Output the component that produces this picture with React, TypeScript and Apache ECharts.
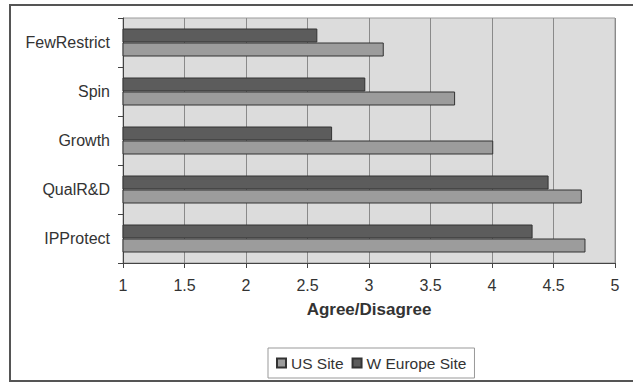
import React, { useEffect, useRef } from "react";
import * as echarts from "echarts";

const categories = ["IPProtect", "QualR&D", "Growth", "Spin", "FewRestrict"];
const usSite = [4.76, 4.73, 4.01, 3.7, 3.12];
const wEuropeSite = [4.33, 4.46, 2.7, 2.97, 2.58];
const seriesNames = ["US Site", "W Europe Site"];

export default function App() {
  const ref = useRef<HTMLDivElement>(null);
  useEffect(() => {
    if (!ref.current) return;
    const chart = echarts.init(ref.current, null, { renderer: "svg" });
    const font = "Liberation Sans, Arial, sans-serif";
    chart.setOption({
      animation: false,
      backgroundColor: "#ffffff",
      textStyle: { fontFamily: font },
      graphic: [
        {
          type: "rect",
          shape: { x: 10, y: 5, width: 640, height: 376 },
          style: { fill: "none", stroke: "#555", lineWidth: 2 },
          silent: true,
          z: -10,
        },
      ],
      grid: {
        left: 123,
        right: 18,
        top: 18,
        bottom: 120,
        show: true,
        backgroundColor: "#dcdcdc",
        borderColor: "#9a9a9a",
        borderWidth: 1,
      },
      legend: {
        data: seriesNames,
        bottom: 5,
        left: 268,
        itemWidth: 9,
        itemHeight: 9,
        itemGap: 8,
        padding: [7, 8, 7, 8],
        borderColor: "#999",
        borderWidth: 1,
        textStyle: { fontSize: 15.5, color: "#333", fontFamily: font },
        icon: "rect",
      },
      xAxis: {
        type: "value",
        min: 1,
        max: 5,
        interval: 0.5,
        name: "Agree/Disagree",
        nameLocation: "middle",
        nameGap: 38,
        nameTextStyle: { fontSize: 17, fontWeight: "bold", color: "#333", fontFamily: font },
        axisLine: { show: true, lineStyle: { color: "#444" } },
        axisTick: { show: true, length: 5, lineStyle: { color: "#444" } },
        axisLabel: { fontSize: 16, color: "#333", margin: 14, fontFamily: font },
        splitLine: { show: true, lineStyle: { color: "#8a8a8a", width: 1 } },
      },
      yAxis: {
        type: "category",
        data: categories,
        axisLine: { show: true, lineStyle: { color: "#444" } },
        axisTick: { show: true, length: 5, lineStyle: { color: "#444" } },
        axisLabel: { fontSize: 16, color: "#333", margin: 13, fontFamily: font },
        splitLine: { show: false },
      },
      series: [
        {
          name: seriesNames[1],
          type: "bar",
          data: wEuropeSite,
          barWidth: 14,
          barGap: "0%",
          barCategoryGap: "43%",
          itemStyle: { color: "#5c5c5c", borderColor: "#333", borderWidth: 1 },
        },
        {
          name: seriesNames[0],
          type: "bar",
          data: usSite,
          barWidth: 14,
          barGap: "0%",
          itemStyle: { color: "#9c9c9c", borderColor: "#333", borderWidth: 1 },
        },
      ],
    });
    return () => chart.dispose();
  }, []);
  return (
    <div
      ref={ref}
      style={{ position: "fixed", left: 0, top: 0, width: 633, height: 383 }}
    />
  );
}
